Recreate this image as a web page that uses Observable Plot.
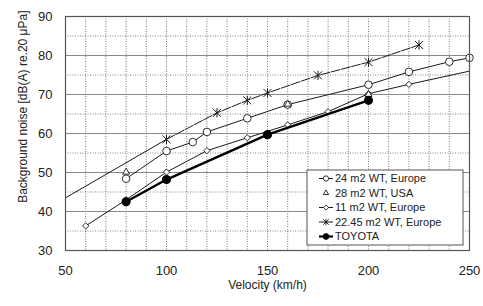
<!DOCTYPE html>
<html><head><meta charset="utf-8">
<script src="https://cdn.jsdelivr.net/npm/d3@7"></script>
<script src="https://cdn.jsdelivr.net/npm/@observablehq/plot@0.6"></script>
<style>
body{margin:0;background:#fff;font-family:"Liberation Sans",Arial,sans-serif}
#chart{position:relative;width:483px;height:306px}
</style>
</head><body><div id="chart"></div>
<script>
// --- data ---
const speed24 = [80, 100, 113, 120, 140, 160, 200, 220, 240, 250];
const noise24 = [48.4, 55.5, 57.8, 60.4, 63.9, 67.4, 72.5, 75.8, 78.4, 79.4];

const speed28 = [80, 160, 200];
const noise28 = [50.1, 67.5, 70.0];

const speed11 = [60, 80, 100, 120, 140, 160, 180, 200, 220];
const noise11 = [36.3, 43.0, 50.1, 55.6, 58.9, 62.2, 65.6, 70.2, 72.6];
const speed11Trend = [220, 250];
const noise11Trend = [72.6, 76.0];

const speed22 = [100, 125, 140, 150, 175, 200, 225];
const noise22 = [58.5, 65.3, 68.5, 70.4, 74.9, 78.3, 82.7];
const speed22Trend = [50, 100];
const noise22Trend = [43.5, 58.5];

const speedToyota = [80, 100, 150, 200];
const noiseToyota = [42.5, 48.2, 59.7, 68.5];

const legendLabels = ["24 m2 WT, Europe", "28 m2 WT, USA", "11 m2 WT, Europe", "22.45 m2 WT, Europe", "TOYOTA"];
const xTicks = [50, 100, 150, 200, 250];
const yTicks = [30, 40, 50, 60, 70, 80, 90];
const yMinorGrid = [35, 45, 55, 65, 75, 85];
const xGrid = [60, 70, 80, 90, 100, 110, 120, 130, 140, 150, 160, 170, 180, 190, 200, 210, 220, 230, 240];
const xLabel = "Velocity (km/h)";
const yLabel = "Background noise [dB(A) re.20 μPa]";

const rows = (xs, ys) => xs.map((x, i) => ({x, y: ys[i]}));
const d24 = rows(speed24, noise24);
const d28 = rows(speed28, noise28);
const d11 = rows(speed11, noise11);
const d11t = rows(speed11Trend, noise11Trend);
const d22 = rows(speed22, noise22);
const d22t = rows(speed22Trend, noise22Trend);
const dT = rows(speedToyota, noiseToyota);

// Excel-like "star" marker: X plus vertical bar
const star = {
  draw(ctx, size) {
    const r = Math.sqrt(size) / 2;
    ctx.moveTo(-r, -r); ctx.lineTo(r, r);
    ctx.moveTo(-r, r); ctx.lineTo(r, -r);
    ctx.moveTo(0, -r * 1.15); ctx.lineTo(0, r * 1.15);
  }
};

const ink = "#1a1a1a";
const font = "Liberation Sans, Arial, sans-serif";

const plot = Plot.plot({
  width: 483, height: 306,
  marginLeft: 65, marginRight: 14, marginTop: 16, marginBottom: 56,
  style: {fontFamily: font, background: "#fff", color: "#222"},
  x: {domain: [50, 250]},
  y: {domain: [30, 90]},
  marks: [
    Plot.ruleX(xGrid, {stroke: "#555", strokeWidth: 0.8, strokeDasharray: "1,1.5"}),
    Plot.ruleY(yMinorGrid, {stroke: "#666", strokeWidth: 0.8, strokeDasharray: "1,1.5"}),
    Plot.ruleY(yTicks, {stroke: "#8a8a8a", strokeWidth: 1}),
    Plot.axisX(xTicks, {tickSize: 0, tickPadding: 15, fontSize: 13, label: null, fill: "#222"}),
    Plot.axisY(yTicks, {tickSize: 0, tickPadding: 13, fontSize: 13, label: null, fill: "#222"}),
    Plot.text([xLabel], {frameAnchor: "bottom", dy: 35, lineAnchor: "middle", fontSize: 12, fill: "#222"}),
    Plot.text([yLabel], {frameAnchor: "top-left", dx: -42, dy: -6, rotate: -90, textAnchor: "end", lineAnchor: "middle", fontSize: 12, fill: "#222"}),
    Plot.line(d22t, {x: "x", y: "y", stroke: ink, strokeWidth: 1}),
    Plot.line(d22, {x: "x", y: "y", stroke: ink, strokeWidth: 1, strokeDasharray: "9,1.5"}),
    Plot.line(d24, {x: "x", y: "y", stroke: ink, strokeWidth: 1}),
    Plot.line(d11, {x: "x", y: "y", stroke: ink, strokeWidth: 1}),
    Plot.line(d11t, {x: "x", y: "y", stroke: ink, strokeWidth: 1}),
    Plot.dot(d11, {x: "x", y: "y", symbol: "diamond2", r: 2.8, fill: "#fff", stroke: ink, strokeWidth: 0.9}),
    Plot.dot(d24, {x: "x", y: "y", symbol: "circle", r: 3.8, fill: "#fff", stroke: ink, strokeWidth: 0.9}),
    Plot.dot(d28, {x: "x", y: "y", symbol: "triangle2", r: 3.3, fill: "#fff", stroke: ink, strokeWidth: 0.9}),
    Plot.dot(d22, {x: "x", y: "y", symbol: star, r: 4.5, stroke: ink, strokeWidth: 1}),
    Plot.line(dT, {x: "x", y: "y", stroke: "#000", strokeWidth: 2.5}),
    Plot.dot(dT, {x: "x", y: "y", symbol: "circle", r: 3.8, fill: "#000", stroke: "#000"}),
    Plot.frame({stroke: "#555", strokeWidth: 1.2})
  ]
});
document.getElementById("chart").appendChild(plot);

// legend (inside the plot, lower right)
const svg = d3.select(plot);
const lg = svg.append("g").attr("font-family", font).attr("font-size", 11)
  .attr("fill", "#222").attr("text-anchor", "start");
lg.append("rect").attr("x", 307).attr("y", 170).attr("width", 156).attr("height", 75)
  .attr("fill", "#fff").attr("stroke", "#555").attr("stroke-width", 1);
const legendSymbols = ["circle", "triangle", "diamond", "star", "filled"];
legendLabels.forEach((label, i) => {
  const cy = 178.5 + i * 14.5;
  const g = lg.append("g");
  const kind = legendSymbols[i];
  if (kind !== "triangle") {
    g.append("line").attr("x1", 319).attr("x2", 333).attr("y1", cy).attr("y2", cy)
      .attr("stroke", "#000").attr("stroke-width", kind === "filled" ? 2.2 : 0.9);
  }
  const sym = kind === "circle" ? d3.symbol(d3.symbolCircle, 22)
    : kind === "triangle" ? d3.symbol(d3.symbolTriangle2, 20)
    : kind === "diamond" ? d3.symbol(d3.symbolDiamond2, 18)
    : kind === "star" ? d3.symbol(star, 30)
    : d3.symbol(d3.symbolCircle, 26);
  g.append("path").attr("d", sym()).attr("transform", `translate(326,${cy})`)
    .attr("fill", kind === "filled" ? "#000" : kind === "star" ? "none" : "#fff")
    .attr("stroke", "#000").attr("stroke-width", 0.8);
  g.append("text").attr("x", 335).attr("y", cy).attr("dy", "0.35em")
    .attr("text-anchor", "start").text(label);
});
</script>
</body></html>
